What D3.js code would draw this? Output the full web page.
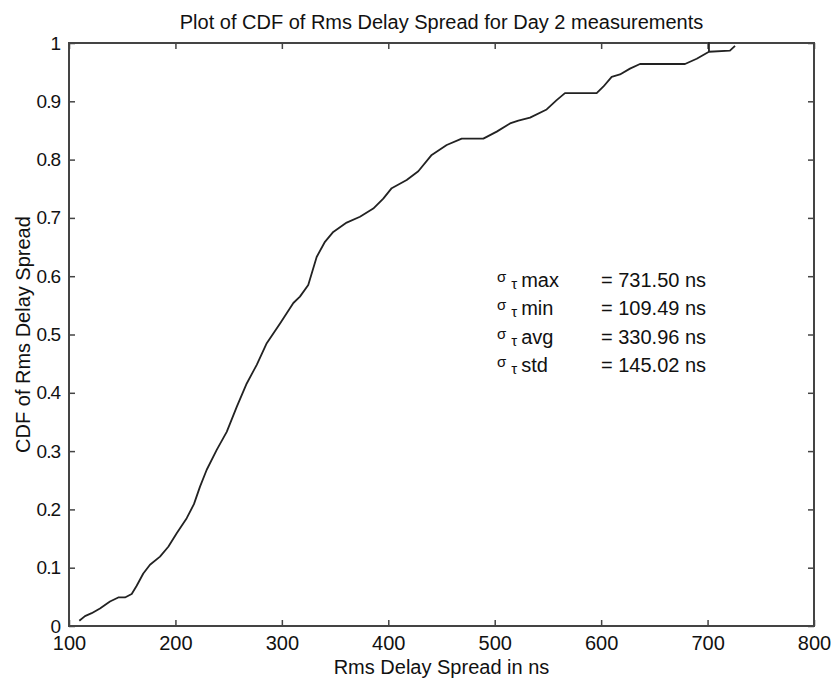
<!DOCTYPE html>
<html>
<head>
<meta charset="utf-8">
<script src="https://cdn.jsdelivr.net/npm/d3@7"></script>
<style>
  body { margin: 0; background: #fff; }
  text { font-family: "Liberation Sans", Arial, sans-serif; fill: #111; }
</style>
</head>
<body>
<svg width="834" height="679"></svg>
<script>
// values
var delay = [109.7, 115, 121.3, 129.1, 138.5, 146.3, 152.6, 158.9, 163.6, 169.8, 176.1, 185.5, 193.3, 201.2, 210.6, 217.4, 223.1, 229.4, 238.8, 248.2, 257.6, 267, 276.4, 285.8, 298.3, 310.8,
  317, 324.8, 332.7, 340.5, 348.3, 360.9, 373.4, 385.9, 395.3, 403.2, 417.3, 428.2, 440.8, 454.9, 469, 489.3, 501.9, 514.4, 522.2, 533.2, 548.8, 558.2, 566, 580.1, 595.8,
  602, 609.9, 617.7, 627.1, 636.5, 655.3, 678.8, 689.8, 701.3, 701.3, 701.3, 721, 725.8];
var cdf = [0.009, 0.017, 0.022, 0.030, 0.042, 0.049, 0.049, 0.055, 0.069, 0.090, 0.105, 0.119, 0.136, 0.159, 0.185, 0.209, 0.239, 0.268, 0.302, 0.333, 0.376, 0.416, 0.448, 0.485, 0.519, 0.554,
  0.565, 0.585, 0.633, 0.659, 0.676, 0.692, 0.702, 0.716, 0.733, 0.751, 0.765, 0.780, 0.808, 0.825, 0.836, 0.836, 0.848, 0.862, 0.867, 0.872, 0.886, 0.902, 0.914, 0.914, 0.914,
  0.925, 0.942, 0.946, 0.956, 0.964, 0.964, 0.964, 0.973, 0.985, 1.0, 0.985, 0.987, 0.995];
var xTicks = [100, 200, 300, 400, 500, 600, 700, 800];
var yTicks = [0, 0.1, 0.2, 0.3, 0.4, 0.5, 0.6, 0.7, 0.8, 0.9, 1];
var statNames = ["max", "min", "avg", "std"];
var statValues = ["= 731.50 ns", "= 109.49 ns", "= 330.96 ns", "= 145.02 ns"];

// plot box edges (note: "top" is taken by window.top, so use other names)
var pLeft = 69, pRight = 814, pTop = 43, pBottom = 626;
var svg = d3.select("svg");

var x = d3.scaleLinear().domain([100, 800]).range([pLeft, pRight]);
var y = d3.scaleLinear().domain([0, 1]).range([pBottom, pTop]);

// box
svg.append("rect")
    .attr("x", pLeft).attr("y", pTop)
    .attr("width", pRight - pLeft).attr("height", pBottom - pTop)
    .attr("fill", "none").attr("stroke", "#444").attr("stroke-width", 2);

// ticks point inward, on all four sides (matlab style)
var tk = 6;
function styleAxis(g) {
  g.select(".domain").remove();
  g.selectAll(".tick line").attr("stroke", "#444").attr("stroke-width", 1.5);
  g.selectAll("text").style("font-size", "20px").attr("fill", "#111");
}
svg.append("g").attr("transform", "translate(0," + pBottom + ")")
    .call(d3.axisBottom(x).tickValues(xTicks).tickSizeInner(-tk).tickSizeOuter(0).tickPadding(10).tickFormat(d3.format("d")))
    .call(styleAxis);
svg.append("g").attr("transform", "translate(0," + pTop + ")")
    .call(d3.axisTop(x).tickValues(xTicks).tickSizeInner(-tk).tickSizeOuter(0).tickFormat(""))
    .call(styleAxis);
svg.append("g").attr("transform", "translate(" + pLeft + ",0)")
    .call(d3.axisLeft(y).tickValues(yTicks).tickSizeInner(-tk).tickSizeOuter(0).tickPadding(9).tickFormat(d3.format("~g")))
    .call(styleAxis)
    .selectAll("text").style("font-size", "19px").style("letter-spacing", "-1px");
svg.append("g").attr("transform", "translate(" + pRight + ",0)")
    .call(d3.axisRight(y).tickValues(yTicks).tickSizeInner(-tk).tickSizeOuter(0).tickFormat(""))
    .call(styleAxis);

// curve
var line = d3.line().x(function(d, i) { return x(delay[i]); }).y(function(d, i) { return y(cdf[i]); });
svg.append("path")
    .datum(cdf)
    .attr("d", line)
    .attr("fill", "none").attr("stroke", "#222").attr("stroke-width", 1.8)
    .attr("stroke-linejoin", "round");

// titles
svg.append("text").attr("x", (pLeft + pRight) / 2).attr("y", 29)
    .attr("text-anchor", "middle").style("font-size", "20px")
    .text("Plot of CDF of Rms Delay Spread for Day 2 measurements");
svg.append("text").attr("x", (pLeft + pRight) / 2).attr("y", 674)
    .attr("text-anchor", "middle").style("font-size", "20px")
    .text("Rms Delay Spread in ns");
svg.append("text").attr("transform", "translate(30," + (pTop + pBottom) / 2 + ") rotate(-90)")
    .attr("text-anchor", "middle").style("font-size", "20px")
    .text("CDF of Rms Delay Spread");

// stats block
var rowY = [287, 315, 344, 372];
statNames.forEach(function(n, i) {
  var t = svg.append("text").attr("x", 497).attr("y", rowY[i]).style("font-size", "20px");
  t.append("tspan").style("font-size", "15px").attr("dy", -5).text("σ");
  t.append("tspan").style("font-size", "15px").attr("dx", 5).attr("dy", 7).text("τ");
  t.append("tspan").attr("dx", 4).attr("dy", -2).text(n);
  svg.append("text").attr("x", 601).attr("y", rowY[i]).style("font-size", "20px").text(statValues[i]);
});
</script>
</body>
</html>
